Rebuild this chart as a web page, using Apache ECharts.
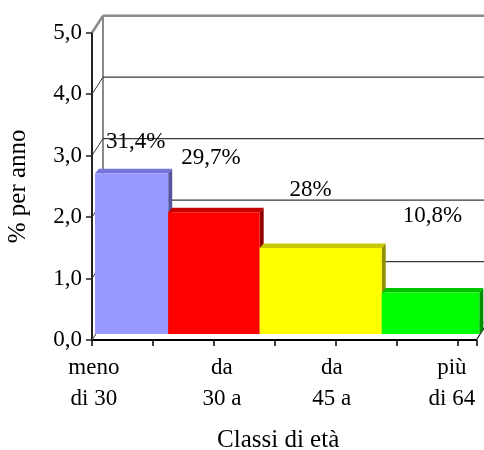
<!DOCTYPE html>
<html>
<head>
<meta charset="utf-8">
<script src="https://cdn.jsdelivr.net/npm/echarts@6/dist/echarts.min.js"></script>
<style>
  html, body { margin: 0; padding: 0; background: #fff; }
  #chart { width: 484px; height: 450px; }
</style>
</head>
<body>
<div id="chart"></div>
<script>
// Age classes, their span in years and the share of each class
const classes = ['meno\ndi 30', 'da\n30 a', 'da\n45 a', 'più\ndi 64'];
const classYears = [12, 15, 20, 16];
const shares = [31.4, 29.7, 28, 10.8];
const shareLabels = ['31,4%', '29,7%', '28%', '10,8%'];
const yTicks = [0, 1, 2, 3, 4, 5];
const yTickLabels = ['0,0', '1,0', '2,0', '3,0', '4,0', '5,0'];

// Layout helpers (pixels / axis units), kept apart from the data
const FONT = 'Liberation Serif';
const FONT_SIZE = 23;
const TITLE_SIZE = 25;
const WALL = [11, -17];          // depth of the back wall
const BAR_FRONT = [3, -6];       // front plane of the bars
const BAR_DEPTH = [4, -4.5];     // depth of each bar
const classLabelAt = [0.3, 21.3, 39.3, 59];
const shareLabelShift = [[4, -31], [-3, -54], [-10, -58], [2, -77]];
const barColors = [
  { front: '#9999FF', top: '#7474D8', side: '#55559F' },
  { front: '#FF0000', top: '#C80000', side: '#900000' },
  { front: '#FFFF00', top: '#C8C800', side: '#909000' },
  { front: '#00FF00', top: '#00C400', side: '#008F00' }
];

const totalYears = classYears.reduce((a, b) => a + b, 0);
const starts = [];
classYears.reduce((acc, w) => { starts.push(acc); return acc + w; }, 0);

const barData = classYears.map((w, i) => [starts[i], w, shares[i] / w, i]);

const chart = echarts.init(document.getElementById('chart'), null, { renderer: 'canvas' });

const option = {
  animation: false,
  backgroundColor: '#fff',
  grid: {
    left: 92, right: 484 - 92 - totalYears * 6.1, top: 32.7, bottom: 110,
    containLabel: false, outerBoundsMode: 'none'
  },
  xAxis: {
    type: 'value',
    min: 0,
    max: totalYears,
    interval: 10,
    name: 'Classi di età',
    nameLocation: 'middle',
    nameGap: 88,
    nameTextStyle: { fontFamily: FONT, fontSize: TITLE_SIZE, color: '#000', padding: [0, 12, 0, 0] },
    axisLine: { show: true, onZero: false, lineStyle: { color: '#000', width: 2 } },
    axisTick: { show: true, length: 6, lineStyle: { color: '#000', width: 1.5 } },
    axisLabel: { show: false },
    splitLine: { show: false }
  },
  yAxis: {
    type: 'value',
    min: 0,
    max: 5,
    interval: 1,
    name: '% per anno',
    nameLocation: 'middle',
    nameGap: 61,
    nameTextStyle: { fontFamily: FONT, fontSize: TITLE_SIZE, color: '#000' },
    axisLine: { show: true, lineStyle: { color: '#222', width: 2 } },
    axisTick: { show: true, length: 6, lineStyle: { color: '#222', width: 1.5 } },
    axisLabel: {
      margin: 10,
      fontFamily: FONT,
      fontSize: FONT_SIZE,
      color: '#000',
      formatter: v => yTickLabels[yTicks.indexOf(v)]
    },
    splitLine: { show: false }
  },
  series: [
    {
      // back wall, its gridlines and the side/floor edges
      type: 'custom',
      z: 1,
      silent: true,
      data: yTicks,
      renderItem: (params, api) => {
        const v = api.value(0);
        const a = api.coord([0, v]);
        const b = api.coord([totalYears, v]);
        const isTop = v === yTicks[yTicks.length - 1];
        const isFloor = v === 0;
        const color = isTop ? '#8a8a8a' : (isFloor ? '#9a9a9a' : '#3a3a3a');
        const width = isTop ? 2.5 : 1.3;
        const children = [
          { type: 'line', shape: { x1: a[0] + WALL[0], y1: a[1] + WALL[1], x2: b[0] + WALL[0], y2: b[1] + WALL[1] },
            style: { stroke: color, lineWidth: width } },
          { type: 'line', shape: { x1: a[0], y1: a[1], x2: a[0] + WALL[0], y2: a[1] + WALL[1] },
            style: { stroke: isTop ? '#8a8a8a' : '#3a3a3a', lineWidth: isTop ? 2.5 : 1 } }
        ];
        if (isFloor) {
          const top = api.coord([0, yTicks[yTicks.length - 1]]);
          children.push(
            { type: 'line', shape: { x1: a[0] + WALL[0], y1: a[1] + WALL[1], x2: top[0] + WALL[0], y2: top[1] + WALL[1] },
              style: { stroke: '#8a8a8a', lineWidth: 2 } },
            { type: 'line', shape: { x1: b[0], y1: b[1], x2: b[0] + WALL[0], y2: b[1] + WALL[1] },
              style: { stroke: '#222', lineWidth: 1.3 } }
          );
        }
        return { type: 'group', children };
      }
    },
    {
      // bars: class width on x, yearly share on y
      type: 'custom',
      z: 3,
      data: barData,
      renderItem: (params, api) => {
        const x0 = api.value(0), w = api.value(1), h = api.value(2), i = api.value(3);
        const p0 = api.coord([x0, 0]);
        const p1 = api.coord([x0 + w, h]);
        const L = p0[0] + BAR_FRONT[0], R = p1[0] + BAR_FRONT[0];
        const B = p0[1] + BAR_FRONT[1], T = p1[1] + BAR_FRONT[1];
        const dx = BAR_DEPTH[0], dy = BAR_DEPTH[1];
        const c = barColors[i];
        const shift = shareLabelShift[i];
        return {
          type: 'group',
          children: [
            { type: 'polygon', shape: { points: [[R, T], [R + dx, T + dy], [R + dx, B + dy], [R, B]] },
              style: { fill: c.side } },
            { type: 'polygon', shape: { points: [[L, T], [R, T], [R + dx, T + dy], [L + dx, T + dy]] },
              style: { fill: c.top } },
            { type: 'rect', shape: { x: L, y: T, width: R - L, height: B - T },
              style: { fill: c.front } },
            { type: 'text', z2: 10,
              style: { text: shareLabels[i], x: (L + R) / 2 + shift[0], y: T + shift[1],
                       align: 'center', verticalAlign: 'middle',
                       fontFamily: FONT, fontSize: FONT_SIZE, fill: '#000' } }
          ]
        };
      }
    },
    {
      // class names under the axis
      type: 'custom',
      z: 4,
      silent: true,
      data: classes.map((c, i) => [classLabelAt[i], i]),
      renderItem: (params, api) => {
        const p = api.coord([api.value(0), 0]);
        const i = api.value(1);
        return {
          type: 'text',
          style: { text: classes[i], x: p[0], y: p[1] + 12, align: 'center', verticalAlign: 'top',
                   lineHeight: 31, fontFamily: FONT, fontSize: FONT_SIZE, fill: '#000' }
        };
      }
    }
  ]
};

chart.setOption(option);
</script>
</body>
</html>
